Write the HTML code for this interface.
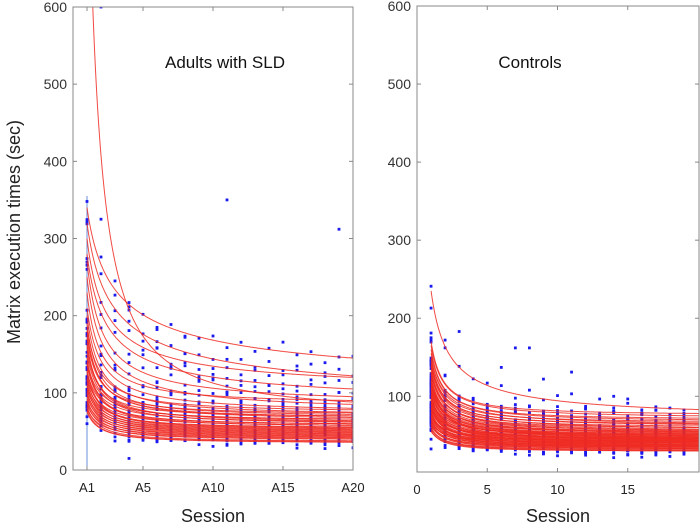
<!DOCTYPE html>
<html><head><meta charset="utf-8"><style>
body{margin:0;background:#fff;width:700px;height:528px;overflow:hidden}
svg{display:block;font-family:"Liberation Sans",sans-serif}
</style></head><body>
<svg id="c" width="700" height="528" xmlns="http://www.w3.org/2000/svg"></svg>
<script>
// ---- data ----
const sessions = [1,2,3,4,5,6,7,8,9,10,11,12,13,14,15,16,17,18,19,20];
const leftStart = [900,340,320,300,280,270,250,230,210,200,190,185,180,175,170,165,160,155,150,145,140,138,135,130,128,125,120,118,115,112,110,108,105,102,100,98,95,92,90,88,85,82,80,78,75];
const leftEnd   = [88,145,122,120,105,95,85,90,80,75,72,78,70,68,74,66,64,70,62,60,66,58,63,56,60,54,58,52,55,50,53,48,51,46,49,44,47,42,45,40,43,38,41,37,36];
const leftExp   = [1.3,0.5,0.55,0.75,0.7,0.9,0.9,1.1,1.0,1.1,1.2,1.1,1.2,1.1,1.2,1.3,1.1,1.2,1.1,1.3,1.1,1.2,1.1,1.3,1.1,1.2,1.1,1.2,1.1,1.2,1.1,1.2,1.1,1.2,1.1,1.2,1.1,1.2,1.1,1.2,1.1,1.2,1.1,1.2,1.1];
const rightStart = [235,170,165,160,155,150,148,145,142,140,138,135,132,130,128,125,122,120,118,116,114,112,110,108,106,104,102,100,98,96,95,94,92,90,88,86,85,84,82,80,78,76,75,74,72,70,68,66,65,64,62,60,58,56,55,120,110,100,95,90,85,80,75,70,65];
const rightEnd   = [83,78,75,72,70,68,66,65,64,62,60,60,58,57,56,55,55,54,53,52,52,51,50,50,49,48,48,47,46,46,45,45,44,43,43,42,42,41,40,40,39,38,38,37,37,36,35,35,34,33,33,32,31,30,30,44,47,41,50,38,46,36,43,35,40];
const rightExp = [0.8,1.2,1.1,1.2,1.1,1.2,1.0,1.2,1.1,1.2,1.0,1.2,1.1,1.2,1.0,1.2,1.1,1.2,1.0,1.2,1.1,1.2,1.0,1.2,1.1,1.2,1.0,1.2,1.1,1.2,1.0,1.2,1.1,1.2,1.0,1.2,1.1,1.2,1.0,1.2,1.1,1.2,1.0,1.2,1.1,1.2,1.0,1.2,1.1,1.2,1.0,1.2,1.1,1.2,1.0,1.1,1.0,1.1,1.0,1.1,1.0,1.1,1.0,1.1,1.0];
const jitter = [4,-6,9,-3,12,-10,2,-14,7,-1,16,-8,5,-12,3,10,-5,20,-9,1,-4,14,-11,6,-2,8,-15,11,-7,0,18,-3];
const leftOutliers = [[2,600],[11,350],[19,312],[4,15],[2,325],[1,348],[3,245],[4,217],[6,182],[8,172]];
const rightOutliers = [[1,213],[2,172],[3,183],[7,162],[8,162],[11,131],[9,122],[6,137],[14,100]];
const yTicks = [0,100,200,300,400,500,600];
const leftXTicks = [1,5,10,15,20];
const leftXLabels = ["A1","A5","A10","A15","A20"];
const rightXTicks = [0,5,10,15];

const NS="http://www.w3.org/2000/svg", svg=document.getElementById('c');
function el(t,a,p){const e=document.createElementNS(NS,t);for(const k in a)e.setAttribute(k,a[k]);(p||svg).appendChild(e);return e;}

const panels=[
 {x0:73,x1:353,y0:470,yTop:7,sx:v=>87+(v-1)*14,start:leftStart,end:leftEnd,exp:leftExp,out:leftOutliers,xt:leftXTicks,xl:leftXLabels,title:"Adults with SLD",tx:225,yMin:0,name:"sld"},
 {x0:417,x1:699,y0:472,yTop:6,sx:v=>417+v*14.05,start:rightStart,end:rightEnd,exp:rightExp,out:rightOutliers,xt:rightXTicks,xl:rightXTicks.map(String),title:"Controls",tx:530,yMin:3,name:"controls"}
];
panels.forEach(P=>{
 const ppu=(P.y0-P.yTop)/(600-P.yMin);
 const sy=v=>P.y0-(v-P.yMin)*ppu;
 const g=el('g',{});
 
 
 const clipId='clip'+P.name;
 const cp=el('clipPath',{id:clipId},g);el('rect',{x:P.x0,y:P.yTop,width:P.x1-P.x0,height:P.y0-P.yTop},cp);
 const plot=el('g',{'clip-path':'url(#'+clipId+')'},g);
 if(P.name==='sld'){const l=el('line',{x1:P.sx(1),x2:P.sx(1),y1:sy(0),y2:sy(355),stroke:'#6a8fd8','stroke-width':1},plot);
  }
 P.start.forEach((y1,i)=>{
  const b=P.exp[i],y20=P.end[i],k=(y1-y20)/(1-Math.pow(20,-b)),c=y1-k;
  const f=s=>c+k*Math.pow(s,-b);
  sessions.forEach((s,j)=>{
   if(P.name==='controls'&&s>19)return;
   if(i===0&&P.name==='sld'&&s<4)return;
   const v=f(s)+jitter[(i*7+j*3)%jitter.length]*(s===1?1.5:0.6);
   const d=el('rect',{x:P.sx(s)-1.4,y:sy(v)-1.4,width:2.8,height:2.8,fill:'#1a1aee'},plot);
   
  });
 });
 P.start.forEach((y1,i)=>{
  const b=P.exp[i],y20=P.end[i],k=(y1-y20)/(1-Math.pow(20,-b)),c=y1-k;
  let dstr='';
  for(let s=1;s<=20.5;s+=0.05){dstr+=(dstr?'L':'M')+P.sx(s).toFixed(1)+' '+sy(c+k*Math.pow(s,-b)).toFixed(1);}
  const p=el('path',{d:dstr,fill:'none',stroke:'#ee2a22','stroke-width':1,'stroke-opacity':0.85},plot);
  
 });
 P.out.forEach(o=>{const d=el('rect',{x:P.sx(o[0])-1.4,y:sy(o[1])-1.4,width:2.8,height:2.8,fill:'#1a1aee'},plot);
  });
 const bx=el('rect',{x:P.x0,y:P.yTop,width:P.x1-P.x0,height:P.y0-P.yTop,fill:'none',stroke:'#888','stroke-width':1},g);
 
 yTicks.forEach(t=>{
  if(t<P.yMin)return; const y=sy(t);
  el('line',{x1:P.x0,x2:P.x0+4,y1:y,y2:y,stroke:'#888'},g);
  el('line',{x1:P.x1,x2:P.x1-4,y1:y,y2:y,stroke:'#888'},g);
  const tx=el('text',{x:P.x0-6,y:y+5,'text-anchor':'end','font-size':14,fill:'#333'},g);tx.textContent=t;
  
 });
 P.xt.forEach((t,i)=>{
  const x=P.sx(t);
  el('line',{x1:x,x2:x,y1:P.y0,y2:P.y0-4,stroke:'#888'},g);
  el('line',{x1:x,x2:x,y1:P.yTop,y2:P.yTop+4,stroke:'#888'},g);
  const tx=el('text',{x:x,y:P.y0+22,'text-anchor':'middle','font-size':13,fill:'#222'},g);tx.textContent=P.xl[i];
  
 });
 const tt=el('text',{x:P.tx,y:68,'text-anchor':'middle','font-size':17,fill:'#111'},g);tt.textContent=P.title;
 
 const xl=el('text',{x:(P.x0+P.x1)/2,y:522,'text-anchor':'middle','font-size':18,fill:'#222'},g);xl.textContent='Session';
 
});
const yl=el('text',{x:0,y:0,transform:'translate(20,232) rotate(-90)','text-anchor':'middle','font-size':18,fill:'#222'});
yl.textContent='Matrix execution times (sec)';


</script>
</body></html>
